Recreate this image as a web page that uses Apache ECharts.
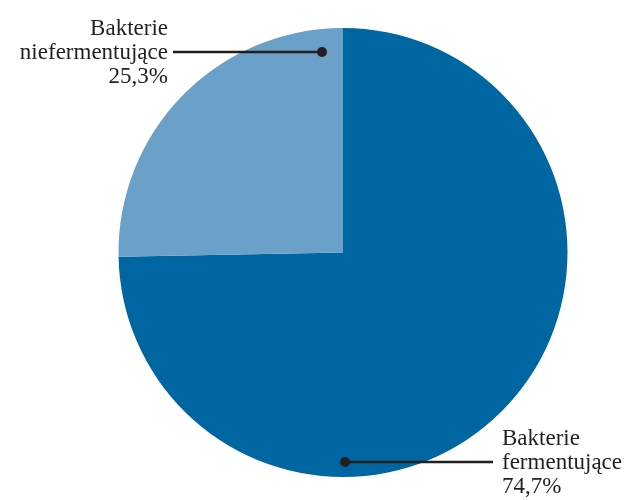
<!DOCTYPE html>
<html>
<head>
<meta charset="utf-8">
<script src="https://cdn.jsdelivr.net/npm/echarts@6/dist/echarts.min.js"></script>
<style>
  html, body { margin: 0; padding: 0; background: #ffffff; }
  #chart { width: 632px; height: 500px; }
</style>
</head>
<body>
<div id="chart"></div>
<script>
// Share of bacteria by fermentation ability (percent)
const categories = ['Bakterie\nfermentujące', 'Bakterie\nniefermentujące'];
const shares = [74.7, 25.3];
const colors = ['#0066a1', '#6ba0c8'];

const CX = 343, CY = 252.5, R = 224.5;
const TEXT = '#231f20';
const FONT = '"Liberation Serif", "Times New Roman", serif';

// Leader-line geometry per slice: inner dot, outer end, label anchor
const leaders = [
  { dot: [CX + 2, 462], end: [493, 462], label: [502, 462], align: 'left' },
  { dot: [CX - 21, 52], end: [173, 52], label: [168, 52], align: 'right' }
];

const fmt = v => v.toFixed(1).replace('.', ',') + '%';

const chart = echarts.init(document.getElementById('chart'), null, { renderer: 'canvas' });
chart.setOption({
  animation: false,
  color: colors,
  series: [{
    type: 'pie',
    center: [CX, CY],
    radius: R,
    startAngle: 90,
    clockwise: true,
    silent: true,
    itemStyle: { borderWidth: 0 },
    data: categories.map((name, i) => ({ name, value: shares[i] })),
    label: {
      show: true,
      position: 'outside',
      overflow: 'none',
      formatter: p => p.name + '\n' + fmt(p.value),
      fontFamily: FONT,
      fontSize: 23,
      lineHeight: 24,
      color: TEXT
    },
    labelLine: { show: false },
    labelLayout: p => {
      const L = leaders[p.dataIndex];
      return {
        x: L.label[0],
        y: L.label[1] + 1,
        align: L.align,
        verticalAlign: 'middle'
      };
    }
  }],
  // leader lines with end dots, drawn over the slices
  graphic: leaders.flatMap(L => [
    {
      type: 'line',
      shape: { x1: L.dot[0], y1: L.dot[1], x2: L.end[0], y2: L.end[1] },
      style: { stroke: TEXT, lineWidth: 2.5 },
      z: 100
    },
    {
      type: 'circle',
      shape: { cx: L.dot[0], cy: L.dot[1], r: 5 },
      style: { fill: TEXT },
      z: 101
    }
  ])
});
</script>
</body>
</html>
